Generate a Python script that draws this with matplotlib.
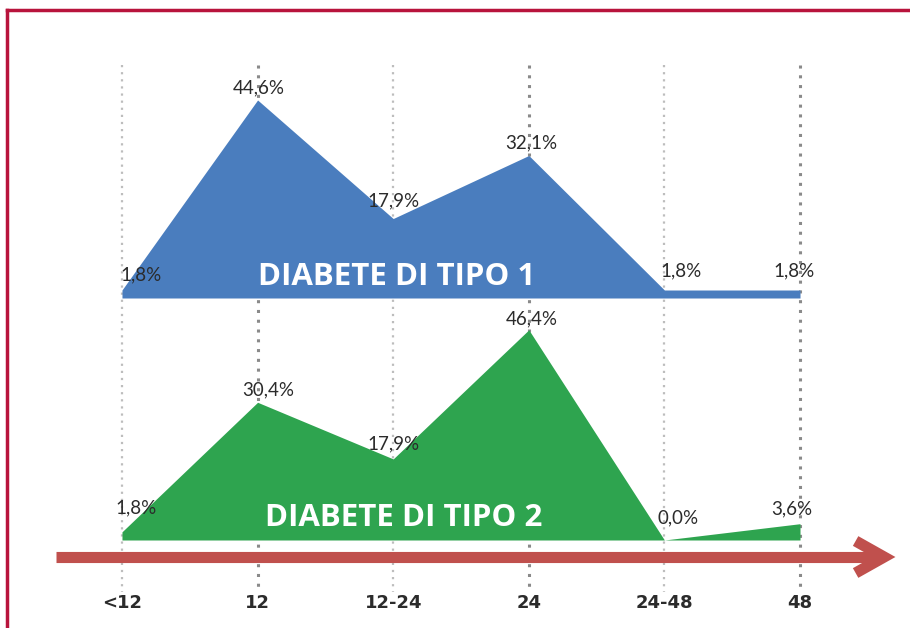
import matplotlib.pyplot as plt
from matplotlib.lines import Line2D

# -----------------------------
# Data
# -----------------------------
categories = ["<12", "12", "12-24", "24", "24-48", "48"]
tipo1 = [1.8, 44.6, 17.9, 32.1, 1.8, 1.8]
tipo2 = [1.8, 30.4, 17.9, 46.4, 0.0, 3.6]
labels1 = ["1,8%", "44,6%", "17,9%", "32,1%", "1,8%", "1,8%"]
labels2 = ["1,8%", "30,4%", "17,9%", "46,4%", "0,0%", "3,6%"]

# label offsets in points (layout only)
off1 = [(14, 11), (1, 9), (0, 13), (2, 9), (12, 14), (-4, 14)]
off2 = [(10, 17), (8, 9), (0, 11), (2, 8), (10, 16), (-6, 11)]

BLUE = "#4a7dbe"
GREEN = "#2ea44f"
RED = "#c0504d"
FRAME = "#b8143c"
TXT = "#2b2b2b"

W, H = 910, 628
fig = plt.figure(figsize=(W / 100, H / 100), dpi=100)
fig.patch.set_facecolor("white")

x = list(range(len(categories)))
xlim = (-0.8, 5.8)

# background axes: grid lines, arrow, x labels
bg = fig.add_axes([13.5 / W, 0, 895 / W, 1])
bg.set_xlim(xlim)
bg.set_ylim(H, 0)
bg.axis("off")

for i in x:
    dark = i % 2 == 1
    bg.vlines(i, 65, 592, colors="#8a8a8a" if dark else "#bdbdbd",
              linestyles=(0, (1, 2.2)), linewidth=2.2 if dark else 1.6, zorder=0)

# arrow
bg.plot([-0.49, 5.58], [557, 557], color=RED, linewidth=8, solid_capstyle="butt", zorder=1)
bg.plot([5.41, 5.62, 5.41], [541, 557, 573], color=RED, linewidth=8,
        solid_capstyle="butt", solid_joinstyle="miter", zorder=1)

for i, c in zip(x, categories):
    bg.text(i, 603, c, ha="center", va="center", fontsize=13, fontweight="bold",
            color=TXT, family=["DejaVu Sans"])


def panel(rect, values, labels, offs, color, title, title_x, ymax):
    ax = fig.add_axes(rect)
    ax.set_xlim(xlim)
    ax.set_ylim(0, ymax)
    ax.axis("off")
    ax.fill_between(x, 0, values, color=color, linewidth=0, zorder=2)
    for i, v, lab, (dx, dy) in zip(x, values, labels, offs):
        ax.annotate(lab, (i, v), xytext=(dx, dy), textcoords="offset points",
                    ha="center", va="center", fontsize=13.5, color=TXT,
                    family=["Lato", "DejaVu Sans"], zorder=4)
    ax.text(title_x, 0.09, title, transform=ax.transAxes, ha="center", va="center",
            fontsize=22.5, fontweight="bold", color="white",
            family=["Open Sans", "DejaVu Sans"], zorder=3)
    return ax


# top panel: baseline at y=298 px, 4.44 px per %
panel([13.5 / W, (H - 298) / H, 895 / W, 238 / H], tipo1, labels1, off1, BLUE,
      "DIABETE DI TIPO 1", 0.428, 238 / 4.44)
# bottom panel: baseline at y=540 px, 4.53 px per %
panel([13.5 / W, (H - 540) / H, 895 / W, 240 / H], tipo2, labels2, off2, GREEN,
      "DIABETE DI TIPO 2", 0.436, 240 / 4.53)

# frame (top and left only)
fig.add_artist(Line2D([7 / W, 7 / W], [0, 1 - 10 / H], color=FRAME, linewidth=2.5,
                      transform=fig.transFigure))
fig.add_artist(Line2D([7 / W, 1], [1 - 10 / H, 1 - 10 / H], color=FRAME, linewidth=2.5,
                      transform=fig.transFigure))

fig.savefig("out.png", dpi=100)
